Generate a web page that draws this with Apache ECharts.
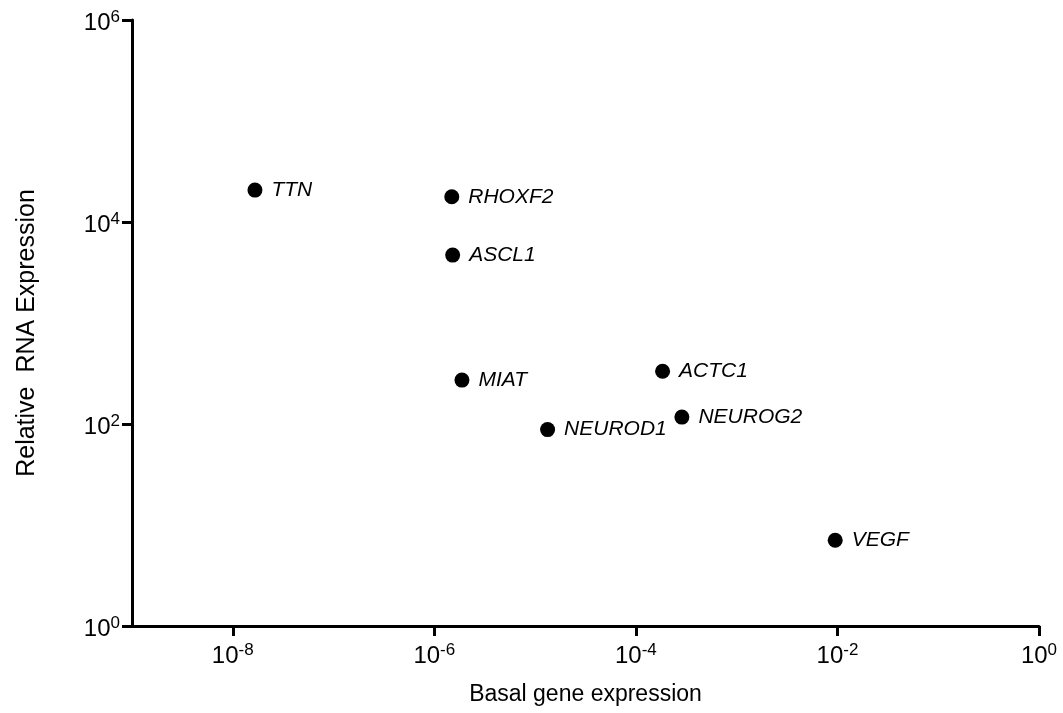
<!DOCTYPE html>
<html>
<head>
<meta charset="utf-8">
<script src="https://cdn.jsdelivr.net/npm/echarts@6/dist/echarts.min.js"></script>
<style>html,body{margin:0;padding:0;background:#fff}#chart{width:1063px;height:713px}</style>
</head>
<body>
<div id="chart"></div>
<script>
var genes = ['TTN', 'RHOXF2', 'ASCL1', 'MIAT', 'NEUROD1', 'ACTC1', 'NEUROG2', 'VEGF'];
var basalExpression = [1.66e-8, 1.49e-6, 1.52e-6, 1.88e-6, 1.33e-5, 1.84e-4, 2.86e-4, 9.5e-3];
var relativeRNA = [20700, 17800, 4700, 272, 88, 333, 117, 7.06];
var xTickValues = [1e-8, 1e-6, 1e-4, 1e-2, 1];
var yTickValues = [1, 1e2, 1e4, 1e6];
var xTitle = 'Basal gene expression';
var yTitle = 'Relative  RNA Expression';

var FONT = '"Liberation Sans", Arial, sans-serif';
function powLabel(v) {
  var e = Math.round(Math.log10(v));
  return '{base|10}{sup|' + e + '}';
}
var rich = {
  base: { fontSize: 24, fontFamily: FONT, color: '#000', lineHeight: 26, verticalAlign: 'bottom' },
  sup: { fontSize: 17, fontFamily: FONT, color: '#000', lineHeight: 26, verticalAlign: 'bottom', padding: [0, 0, 9, 0] }
};

var chart = echarts.init(document.getElementById('chart'));
chart.setOption({
  animation: false,
  backgroundColor: '#fff',
  grid: { left: 132, right: 24, top: 20, bottom: 87, containLabel: false },
  xAxis: {
    type: 'log', logBase: 10, min: 1e-9, max: 1,
    name: xTitle, nameLocation: 'middle', nameGap: 57,
    nameTextStyle: { fontSize: 23, fontFamily: FONT, color: '#000' },
    axisLine: { show: true, onZero: false, lineStyle: { color: '#000', width: 3 } },
    axisTick: { show: true, length: 10, lineStyle: { color: '#000', width: 3 }, customValues: xTickValues },
    axisLabel: { margin: 16, fontSize: 24, color: '#000', fontFamily: FONT, formatter: powLabel, rich: rich, customValues: xTickValues },
    splitLine: { show: false },
    minorTick: { show: false }
  },
  yAxis: {
    type: 'log', logBase: 10, min: 1, max: 1e6,
    name: yTitle, nameLocation: 'middle', nameGap: 92, nameRotate: 90,
    nameTextStyle: { fontSize: 25, fontFamily: FONT, color: '#000', padding: [0, 20, 0, 0] },
    axisLine: { show: true, onZero: false, lineStyle: { color: '#000', width: 3 } },
    axisTick: { show: true, length: 10, lineStyle: { color: '#000', width: 3 }, customValues: yTickValues },
    axisLabel: { margin: 12, fontSize: 24, color: '#000', fontFamily: FONT, formatter: powLabel, rich: rich, customValues: yTickValues, padding: [4, 0, 0, 0] },
    splitLine: { show: false },
    minorTick: { show: false }
  },
  series: [{
    type: 'scatter',
    symbol: 'circle',
    symbolSize: 15,
    itemStyle: { color: '#000', opacity: 1 },
    label: {
      show: true, position: 'right', distance: 9,
      formatter: '{b}',
      fontSize: 21, fontStyle: 'italic', fontFamily: FONT, color: '#000', opacity: 1
    },
    data: genes.map(function (g, i) {
      return { name: g, value: [basalExpression[i], relativeRNA[i]] };
    })
  }]
});
</script>
</body>
</html>
